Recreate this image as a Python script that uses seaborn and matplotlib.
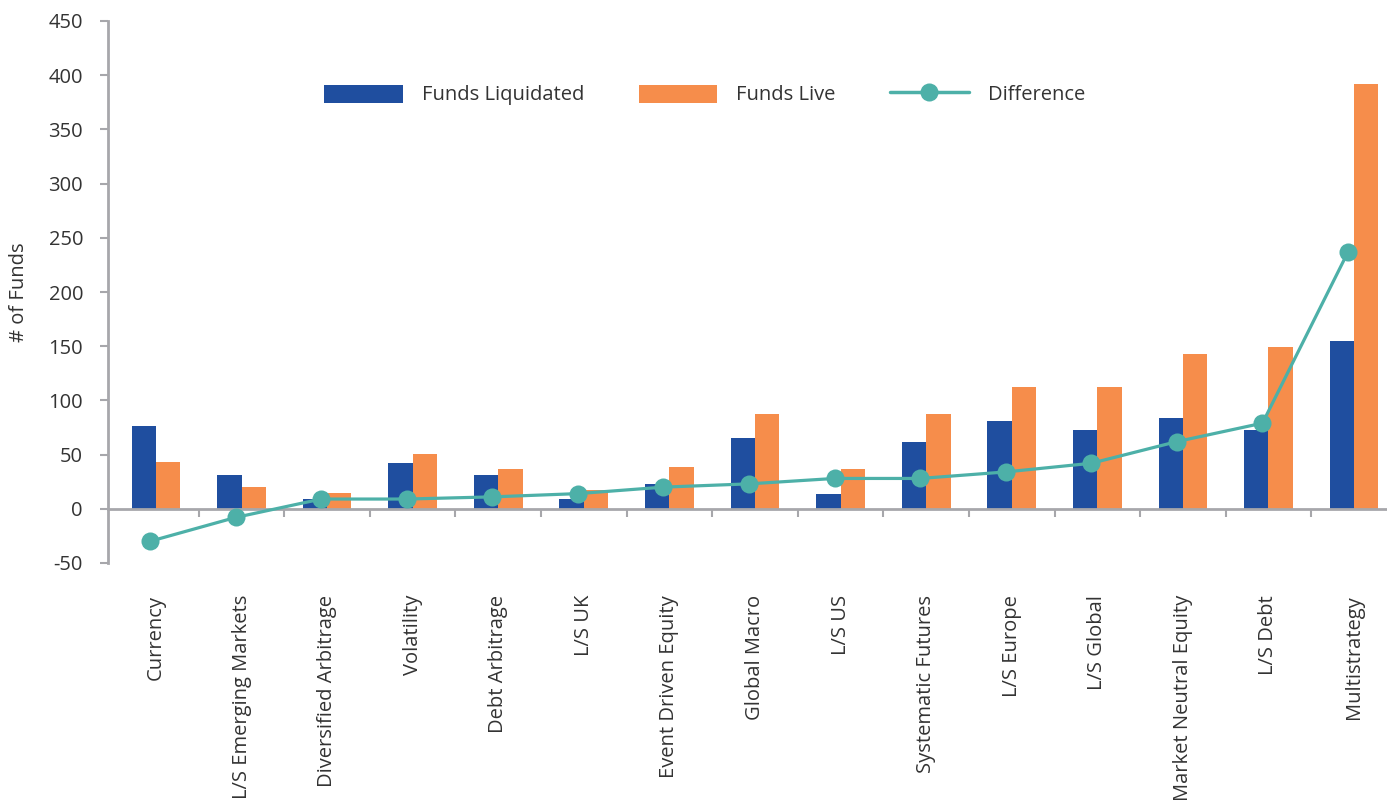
import numpy as np
import pandas as pd
import matplotlib
matplotlib.use("Agg")
import matplotlib.pyplot as plt
import seaborn as sns
from matplotlib.patches import Patch
from matplotlib.lines import Line2D

categories = ["Currency", "L/S Emerging Markets", "Diversified Arbitrage", "Volatility",
              "Debt Arbitrage", "L/S UK", "Event Driven Equity", "Global Macro", "L/S US",
              "Systematic Futures", "L/S Europe", "L/S Global", "Market Neutral Equity",
              "L/S Debt", "Multistrategy"]
funds_liquidated = [76, 31, 9, 42, 31, 9, 23, 65, 14, 62, 81, 73, 84, 73, 155]
funds_live = [43, 20, 15, 51, 37, 17, 39, 87, 37, 87, 112, 112, 143, 149, 392]
difference = [-30, -8, 9, 9, 11, 14, 20, 23, 28, 28, 34, 42, 62, 79, 237]
yticks = [-50, 0, 50, 100, 150, 200, 250, 300, 350, 400, 450]

BLUE = "#1f4e9f"
ORANGE = "#f68d4b"
TEAL = "#4db0a8"
GRAY = "#a7a7ab"
TXT = "#333333"
FS = 14.5
LINE_SHIFT = -0.07

sns.set_theme(style="white")
plt.rcParams['font.family'] = ['Open Sans', 'DejaVu Sans']

df = pd.DataFrame({
    "category": categories * 2,
    "value": funds_liquidated + funds_live,
    "series": ["Funds Liquidated"] * len(categories) + ["Funds Live"] * len(categories),
})

fig = plt.figure(figsize=(13.87, 8.07), dpi=100)
ax = fig.add_axes([108 / 1387, 1 - 563 / 807, 1 - 108 / 1387, (563 - 21) / 807])

sns.barplot(data=df, x="category", y="value", hue="series", order=categories,
            palette={"Funds Liquidated": BLUE, "Funds Live": ORANGE},
            width=0.57, gap=0, ax=ax, legend=False, linewidth=0, saturation=1)

sns.lineplot(x=np.arange(len(categories)) + LINE_SHIFT, y=difference, color=TEAL, linewidth=2.3,
             marker="o", markersize=13, markeredgewidth=0, ax=ax, zorder=5)

ax.set_xlim(-0.56, 14.385)
ax.set_ylim(-50, 450)
ax.set_yticks(yticks)
ax.set_yticklabels([str(v) for v in yticks], fontsize=FS, color=TXT)

ax.spines["top"].set_visible(False)
ax.spines["right"].set_visible(False)
ax.spines["left"].set_color(GRAY)
ax.spines["left"].set_linewidth(2)
ax.spines["bottom"].set_color(GRAY)
ax.spines["bottom"].set_linewidth(2)
ax.spines["bottom"].set_position(("data", 0))

ax.set_xticks(np.arange(len(categories)))
ax.set_xticklabels(categories, rotation=90, fontsize=FS, color=TXT, va="top", ha="center")
ax.set_xticks(np.arange(len(categories) - 1) + 0.5, minor=True)
ax.tick_params(axis="x", which="major", length=0, pad=62)
ax.tick_params(axis="x", which="minor", length=6, width=1.5, color=GRAY, direction="out", bottom=True)
ax.tick_params(axis="y", which="major", length=6, width=1.5, color=GRAY, left=True, pad=12)

ax.set_xlabel("")
ax.set_ylabel("# of Funds", fontsize=FS, color=TXT, labelpad=14)
ax.grid(False)

handles = [Patch(facecolor=BLUE, edgecolor="none", label="Funds Liquidated"),
           Patch(facecolor=ORANGE, edgecolor="none", label="Funds Live"),
           Line2D([0], [0], color=TEAL, linewidth=2.5, marker="o", markersize=13,
                  markeredgewidth=0, label="Difference")]
leg = fig.legend(handles=handles, loc="center", bbox_to_anchor=(0.508, 1 - 95 / 807),
                 ncol=3, frameon=False, fontsize=FS, handlelength=3.9, handleheight=1.0,
                 handletextpad=0.95, columnspacing=2.7)
for t in leg.get_texts():
    t.set_color(TXT)

fig.savefig("out.png", dpi=100)
